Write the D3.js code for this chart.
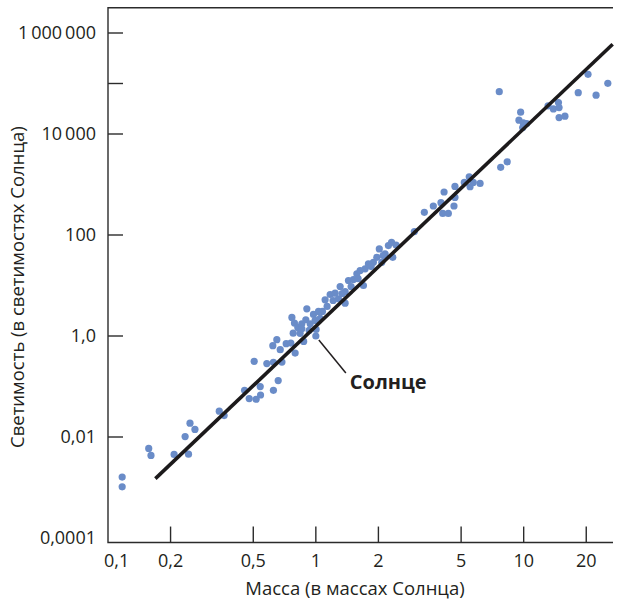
<!DOCTYPE html>
<html>
<head>
<meta charset="utf-8">
<script src="https://cdn.jsdelivr.net/npm/d3@7/dist/d3.min.js"></script>
<style>
  html, body { margin: 0; padding: 0; background: #fff; }
  svg { display: block; }
  text { font-family: "Open Sans", "Noto Sans", sans-serif; fill: #231f20; }
</style>
</head>
<body>
<svg id="chart" width="620" height="603"></svg>
<script>
// ---- Data (mass in solar masses, luminosity in solar luminosities) ----
const mass = [
  0.117, 0.117, 0.157, 0.161, 0.208, 0.244, 0.235, 0.248, 0.262, 0.343,
  0.362, 0.454, 0.478, 0.516, 0.542, 0.540, 0.625, 0.659, 0.505, 0.581,
  0.625, 0.687, 0.621, 0.649, 0.674, 0.720, 0.758, 0.795, 0.874, 1.0,
  0.767, 0.789, 0.778, 0.819, 0.856, 0.895, 0.905, 0.939, 0.974, 1.003,
  1.03, 1.076, 1.108, 1.172, 1.238, 1.285, 0.840, 0.992, 1.309, 1.383,
  1.383, 1.435, 1.516, 1.575, 1.633, 1.694, 1.726, 1.790, 1.892, 1.965,
  2.02, 2.076, 2.153, 2.234, 2.314, 2.345, 2.432, 2.979, 3.327, 3.675,
  4.00, 4.14, 4.08, 4.34, 4.62, 4.67, 4.67, 5.18, 5.47, 5.52,
  5.72, 6.17, 7.63, 7.75, 8.33, 9.67, 9.49, 9.96, 10.34, 9.89,
  13.1, 13.9, 14.7, 14.8, 14.8, 15.8, 18.3, 20.4, 22.3, 25.4,
  1.133, 1.211, 1.338, 1.478, 1.597, 1.845, 2.107, 1.049, 0.929, 0.856
];
const luminosity = [
  0.00161, 0.00103, 0.00593, 0.00431, 0.00452, 0.00458, 0.0102, 0.0188, 0.0141, 0.0324,
  0.0266, 0.0841, 0.0577, 0.0559, 0.0679, 0.0996, 0.0841, 0.131, 0.315, 0.284,
  0.301, 0.305, 0.643, 0.845, 0.536, 0.705, 0.724, 0.459, 0.782, 1.0,
  2.33, 1.80, 1.14, 1.48, 1.75, 2.10, 3.46, 1.75, 2.67, 1.35,
  3.06, 3.06, 5.21, 6.64, 7.04, 5.46, 1.13, 2.03, 9.55, 7.61,
  4.47, 12.55, 13.1, 17.0, 19.8, 10.0, 21.4, 26.8, 28.8, 36.2,
  53.1, 28.8, 42.3, 61.7, 71.7, 36.2, 63.1, 116.7, 280.7, 375.6,
  436, 710, 268, 268, 375.6, 555, 916, 1099, 1425, 903,
  1099, 1050, 69000, 2193, 2818, 27000, 18800, 16600, 16100, 13400,
  36000, 31400, 41900, 33300, 21100, 22500, 65900, 152000, 58600, 101000,
  3.85, 5.05, 6.95, 9.55, 13.7, 23.7, 39.1, 2.23, 1.29, 1.39
];
// Mass–luminosity relation line (endpoints)
const fitMass = [0.169, 26.8];
const fitLum = [0.0015, 600000];
// Sun annotation
const sunMass = 1.0, sunLum = 1.0, sunLabel = "Солнце";

// Axis ticks
const xTicks = [0.1, 0.2, 0.5, 1, 2, 5, 10, 20];
const xTickLabels = ["0,1", "0,2", "0,5", "1", "2", "5", "10", "20"];
const yTicks = [1e6, 1e5, 1e4, 100, 1, 0.01, 1e-4];
const yTickLabels = ["1\u2009000\u2009000", "", "10\u2009000", "100", "1,0", "0,01", "0,0001"];
const xTitle = "Масса (в массах Солнца)";
const yTitle = "Светимость (в светимостях Солнца)";

// ---- Layout ----
const svg = d3.select("#chart");
const x = d3.scaleLog().domain([0.1, 26.9]).range([108, 613]);
const y = d3.scaleLog().domain([1e-4, 1e6]).range([538, 33]);
const yBottom = y(Math.pow(10, -4.09));
const yTop = y(Math.pow(10, 6.5));
const xLeft = x.range()[0], xRight = x.range()[1];

const axisColor = "#2b2b2b";

// frame: left, top, bottom lines
svg.append("path")
  .attr("d", `M${xRight},${yTop}H${xLeft}V${yBottom}H${xRight}`)
  .attr("fill", "none").attr("stroke", axisColor).attr("stroke-width", 1.4);

// Y ticks (inward)
const yt = svg.append("g");
yTicks.forEach((v, i) => {
  if (v > 1e-4) {
    yt.append("line").attr("x1", xLeft).attr("x2", xLeft + 15)
      .attr("y1", y(v)).attr("y2", y(v))
      .attr("stroke", axisColor).attr("stroke-width", 1.4);
  }
  if (yTickLabels[i]) {
    yt.append("text").attr("x", 96).attr("y", y(v))
      .attr("dy", "0.35em").attr("text-anchor", "end")
      .attr("font-size", 18).text(yTickLabels[i]);
  }
});

// X ticks (inward)
const xt = svg.append("g");
xTicks.forEach((v, i) => {
  if (v > 0.1) {
    xt.append("line").attr("x1", x(v)).attr("x2", x(v))
      .attr("y1", yBottom).attr("y2", yBottom - 16)
      .attr("stroke", axisColor).attr("stroke-width", 1.4);
  }
  xt.append("text")
    .attr("x", i === 0 ? x(v) - 4 : x(v))
    .attr("y", 561).attr("dy", "0.35em")
    .attr("text-anchor", i === 0 ? "start" : "middle")
    .attr("font-size", 18).text(xTickLabels[i]);
});

// Axis titles
svg.append("text").attr("x", 355).attr("y", 589).attr("dy", "0.35em")
  .attr("text-anchor", "middle").attr("font-size", 18.5).text(xTitle);
svg.append("text").attr("transform", `translate(18,${(yTop + yBottom) / 2 + 12}) rotate(-90)`)
  .attr("dy", "0.35em").attr("text-anchor", "middle").attr("font-size", 18.5).text(yTitle);

// Points
const pts = mass.map((m, i) => ({ m, l: luminosity[i] }));
svg.append("g").selectAll("circle").data(pts).join("circle")
  .attr("cx", d => x(d.m)).attr("cy", d => y(d.l)).attr("r", 3.6)
  .attr("fill", "#6a8cc8");

// Fit line
svg.append("line")
  .attr("x1", x(fitMass[0])).attr("y1", y(fitLum[0]))
  .attr("x2", x(fitMass[1])).attr("y2", y(fitLum[1]))
  .attr("stroke", "#1c1a1b").attr("stroke-width", 3.6);

// Sun annotation
const sx = x(sunMass), sy = y(sunLum);
svg.append("line").attr("x1", sx + 3).attr("y1", sy + 4)
  .attr("x2", sx + 30).attr("y2", sy + 37)
  .attr("stroke", "#231f20").attr("stroke-width", 1.5);
svg.append("text").attr("x", sx + 34).attr("y", sy + 46).attr("dy", "0.35em")
  .attr("font-size", 20).attr("font-weight", "bold").text(sunLabel);
</script>
</body>
</html>
